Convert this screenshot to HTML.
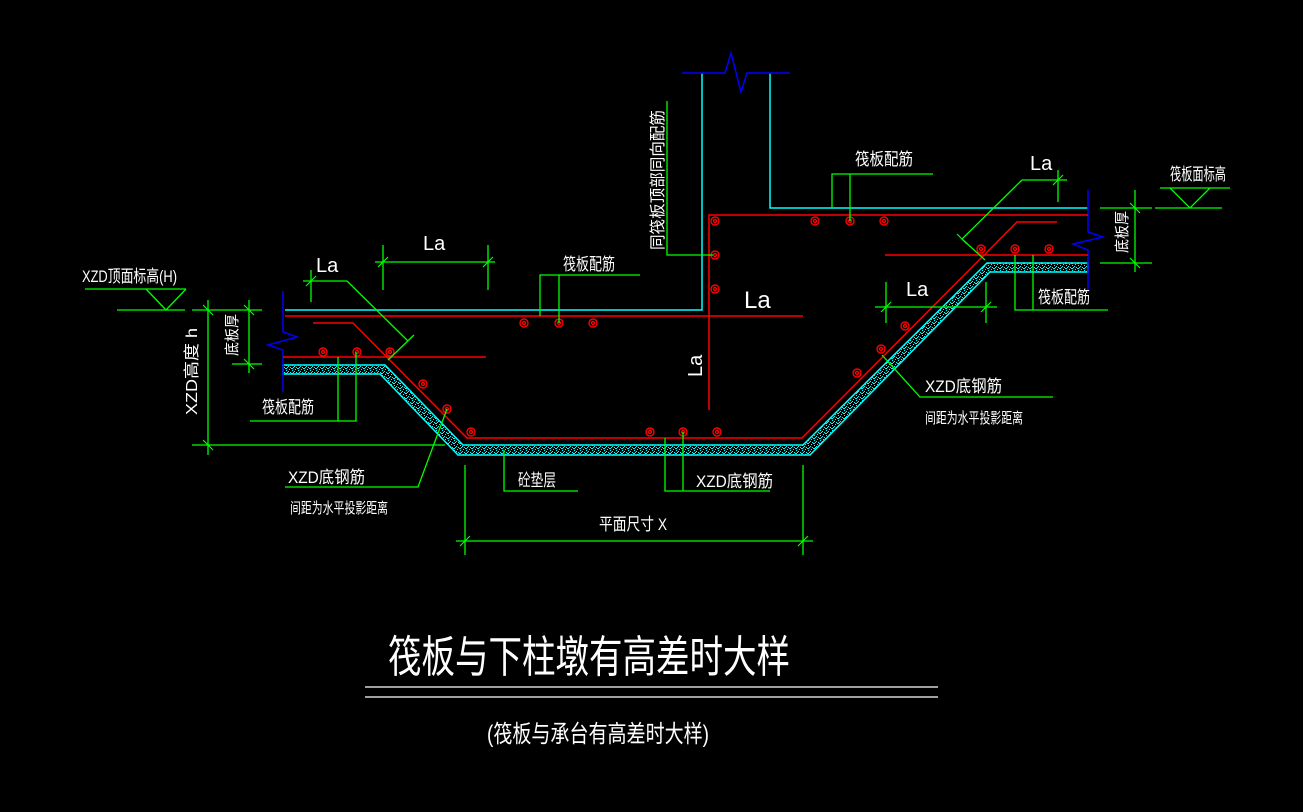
<!DOCTYPE html>
<html><head><meta charset="utf-8"><style>
html,body{margin:0;padding:0;background:#000;width:1303px;height:812px;overflow:hidden}
svg{display:block}
text{fill:#fff;font-family:"Liberation Sans","Noto Sans CJK SC",sans-serif}
</style></head><body>
<svg width="1303" height="812" viewBox="0 0 1303 812" xmlns="http://www.w3.org/2000/svg">
<defs>
<pattern id="dots" width="6" height="5" patternUnits="userSpaceOnUse">
<rect x="0" y="1" width="1" height="1" fill="#0ff"/><rect x="3" y="3" width="2" height="1" fill="#0ff"/><rect x="4" y="0" width="1" height="1" fill="#0ff"/><rect x="1" y="4" width="1" height="1" fill="#0ff"/><rect x="2" y="2" width="1" height="1" fill="#0ff"/><rect x="5" y="2" width="1" height="1" fill="#0ff"/>
</pattern>
</defs>
<rect width="1303" height="812" fill="#000"/>
<polygon points="283,365 385,365 463,445 803,445 987,263 1088,263 1088,272 990,272 810,455 458,455 380,374 283,374" fill="url(#dots)" stroke="#0ff" stroke-width="1.5"/>
<g stroke="#0ff" stroke-width="1.5" fill="none">
<polyline points="285,310 702,310 702,73"/>
<polyline points="770,73 770,208 1088,208"/>
</g>
<g stroke="#00f" stroke-width="1.5" fill="none">
<polyline points="682,73 725,73 731,53 741,92 747,73 790,73"/>
<polyline points="283,291 283,332 297,337 268,345 283,350 283,392"/>
<polyline points="1088,190 1088,232 1103,237 1073,244 1088,250 1088,290"/>
</g>
<g stroke="#f00" stroke-width="1.5" fill="none">
<line x1="285" y1="316" x2="803" y2="316"/>
<polyline points="709,410 709,215 1088,215"/>
<polyline points="313,323 353,323 467,438 802,438 1017,222 1057,222"/>
<line x1="283" y1="357" x2="486" y2="357"/>
<line x1="885" y1="255" x2="1088" y2="255"/>
</g>
<g stroke="#f00" stroke-width="1.4" fill="none" id="reb">
<g><circle cx="323" cy="352" r="4"/><circle cx="323" cy="352" r="1.5"/></g>
<g><circle cx="357" cy="352" r="4"/><circle cx="357" cy="352" r="1.5"/></g>
<g><circle cx="390" cy="352" r="4"/><circle cx="390" cy="352" r="1.5"/></g>
<g><circle cx="423" cy="384" r="4"/><circle cx="423" cy="384" r="1.5"/></g>
<g><circle cx="447" cy="409" r="4"/><circle cx="447" cy="409" r="1.5"/></g>
<g><circle cx="471" cy="432" r="4"/><circle cx="471" cy="432" r="1.5"/></g>
<g><circle cx="650" cy="432" r="4"/><circle cx="650" cy="432" r="1.5"/></g>
<g><circle cx="683" cy="432" r="4"/><circle cx="683" cy="432" r="1.5"/></g>
<g><circle cx="717" cy="432" r="4"/><circle cx="717" cy="432" r="1.5"/></g>
<g><circle cx="524" cy="323" r="4"/><circle cx="524" cy="323" r="1.5"/></g>
<g><circle cx="559" cy="323" r="4"/><circle cx="559" cy="323" r="1.5"/></g>
<g><circle cx="593" cy="323" r="4"/><circle cx="593" cy="323" r="1.5"/></g>
<g><circle cx="715" cy="221" r="4"/><circle cx="715" cy="221" r="1.5"/></g>
<g><circle cx="715" cy="255" r="4"/><circle cx="715" cy="255" r="1.5"/></g>
<g><circle cx="715" cy="289" r="4"/><circle cx="715" cy="289" r="1.5"/></g>
<g><circle cx="815" cy="221" r="4"/><circle cx="815" cy="221" r="1.5"/></g>
<g><circle cx="850" cy="221" r="4"/><circle cx="850" cy="221" r="1.5"/></g>
<g><circle cx="884" cy="221" r="4"/><circle cx="884" cy="221" r="1.5"/></g>
<g><circle cx="981" cy="249" r="4"/><circle cx="981" cy="249" r="1.5"/></g>
<g><circle cx="1015" cy="249" r="4"/><circle cx="1015" cy="249" r="1.5"/></g>
<g><circle cx="1049" cy="249" r="4"/><circle cx="1049" cy="249" r="1.5"/></g>
<g><circle cx="857" cy="373" r="4"/><circle cx="857" cy="373" r="1.5"/></g>
<g><circle cx="881" cy="349" r="4"/><circle cx="881" cy="349" r="1.5"/></g>
<g><circle cx="905" cy="326" r="4"/><circle cx="905" cy="326" r="1.5"/></g>
</g>
<g stroke="#0f0" stroke-width="1.3" fill="none">
<line x1="85" y1="289" x2="186" y2="289"/><polyline points="146,289 166,310 186,289"/><line x1="117" y1="310" x2="185" y2="310"/>
<line x1="208" y1="300" x2="208" y2="455"/><line x1="192" y1="310" x2="262" y2="310"/><line x1="192" y1="445" x2="445" y2="445"/>
<line x1="249" y1="300" x2="249" y2="373"/><line x1="232" y1="364" x2="262" y2="364"/>
<line x1="375" y1="262" x2="495" y2="262"/><line x1="383" y1="245" x2="383" y2="290"/><line x1="488" y1="245" x2="488" y2="290"/>
<line x1="303" y1="281" x2="347" y2="281"/><line x1="311" y1="270" x2="311" y2="302"/>
<polyline points="347,281 408,341"/><line x1="414" y1="335" x2="388" y2="360"/>
<polyline points="250,421 356,421 356,352"/><line x1="338" y1="357" x2="338" y2="421"/>
<polyline points="285,487 418,487 447,409"/>
<polyline points="504,450 504,491 578,491"/>
<polyline points="665,438 665,491 770,491"/><line x1="683" y1="432" x2="683" y2="491"/>
<line x1="456" y1="541" x2="813" y2="541"/><line x1="465" y1="465" x2="465" y2="555"/><line x1="803" y1="465" x2="803" y2="555"/>
<polyline points="640,275 540,275 540,316"/><line x1="559" y1="275" x2="559" y2="323"/>
<polyline points="667,101 667,255 713,255"/>
<polyline points="933,174 832,174 832,208"/><line x1="850" y1="174" x2="850" y2="221"/>
<line x1="1022" y1="180" x2="1067" y2="180"/><line x1="1058" y1="170" x2="1058" y2="202"/>
<polyline points="1022,180 962,239 985,260"/>
<polyline points="1015,255 1015,310 1108,310"/><line x1="1033" y1="255" x2="1033" y2="310"/>
<line x1="875" y1="307" x2="997" y2="307"/><line x1="886" y1="282" x2="886" y2="323"/><line x1="986" y1="282" x2="986" y2="323"/>
<polyline points="1053,397 920,397 882,355"/>
<line x1="1160" y1="188" x2="1230" y2="188"/><polyline points="1170,188 1190,208 1210,188"/><line x1="1155" y1="208" x2="1222" y2="208"/>
<line x1="1135" y1="190" x2="1135" y2="272"/><line x1="1100" y1="208" x2="1152" y2="208"/><line x1="1100" y1="263" x2="1152" y2="263"/>
</g>
<g stroke="#0f0" stroke-width="1.2">
<line x1="203" y1="305" x2="213" y2="315"/><line x1="203" y1="440" x2="213" y2="450"/>
<line x1="244" y1="305" x2="254" y2="315"/><line x1="244" y1="359" x2="254" y2="369"/>
<line x1="378" y1="267" x2="388" y2="257"/><line x1="483" y1="267" x2="493" y2="257"/>
<line x1="306" y1="286" x2="316" y2="276"/><line x1="1053" y1="185" x2="1063" y2="175"/>
<line x1="460" y1="546" x2="470" y2="536"/><line x1="798" y1="546" x2="808" y2="536"/>
<line x1="881" y1="312" x2="891" y2="302"/><line x1="981" y1="312" x2="991" y2="302"/>
<line x1="1130" y1="203" x2="1140" y2="213"/><line x1="1130" y1="258" x2="1140" y2="268"/>
<line x1="957" y1="234" x2="967" y2="244"/>
</g>
<g font-size="17">
<text x="82" y="282" textLength="95" lengthAdjust="spacingAndGlyphs">XZD顶面标高(H)</text>
<text x="316" y="272" font-size="20">La</text>
<text x="423" y="250" font-size="20">La</text>
<text x="563" y="270" textLength="52" lengthAdjust="spacingAndGlyphs">筏板配筋</text>
<text x="744" y="308" font-size="24">La</text>
<text x="855" y="165" textLength="58" lengthAdjust="spacingAndGlyphs">筏板配筋</text>
<text x="1030" y="170" font-size="20">La</text>
<text x="1170" y="180" textLength="56" lengthAdjust="spacingAndGlyphs">筏板面标高</text>
<text x="906" y="296" font-size="20">La</text>
<text x="1038" y="303" textLength="52" lengthAdjust="spacingAndGlyphs">筏板配筋</text>
<text x="925" y="392" textLength="77" lengthAdjust="spacingAndGlyphs">XZD底钢筋</text>
<text x="925" y="423" font-size="15" textLength="98" lengthAdjust="spacingAndGlyphs">间距为水平投影距离</text>
<text x="262" y="413" textLength="52" lengthAdjust="spacingAndGlyphs">筏板配筋</text>
<text x="288" y="483" textLength="77" lengthAdjust="spacingAndGlyphs">XZD底钢筋</text>
<text x="290" y="513" font-size="15" textLength="98" lengthAdjust="spacingAndGlyphs">间距为水平投影距离</text>
<text x="518" y="486" textLength="38" lengthAdjust="spacingAndGlyphs">砼垫层</text>
<text x="696" y="487" textLength="77" lengthAdjust="spacingAndGlyphs">XZD底钢筋</text>
<text x="599" y="530" textLength="68" lengthAdjust="spacingAndGlyphs">平面尺寸 X</text>
<text transform="translate(663,250) rotate(-90)" font-size="16" textLength="140" lengthAdjust="spacingAndGlyphs">同筏板顶部同向配筋</text>
<text transform="translate(237,356) rotate(-90)" font-size="15" textLength="42" lengthAdjust="spacingAndGlyphs">底板厚</text>
<text transform="translate(197,415) rotate(-90)" font-size="16" textLength="87" lengthAdjust="spacingAndGlyphs">XZD高度 h</text>
<text transform="translate(1127,253) rotate(-90)" font-size="15" textLength="42" lengthAdjust="spacingAndGlyphs">底板厚</text>
<text transform="translate(702,377) rotate(-90)" font-size="20">La</text>
</g>
<text x="388" y="672" font-size="44" textLength="402" lengthAdjust="spacingAndGlyphs">筏板与下柱墩有高差时大样</text>
<line x1="365" y1="687" x2="938" y2="687" stroke="#fff" stroke-width="1.2"/>
<line x1="365" y1="697" x2="938" y2="697" stroke="#fff" stroke-width="1.2"/>
<text x="487" y="742" font-size="24" textLength="222" lengthAdjust="spacingAndGlyphs">(筏板与承台有高差时大样)</text>
</svg>
</body></html>
